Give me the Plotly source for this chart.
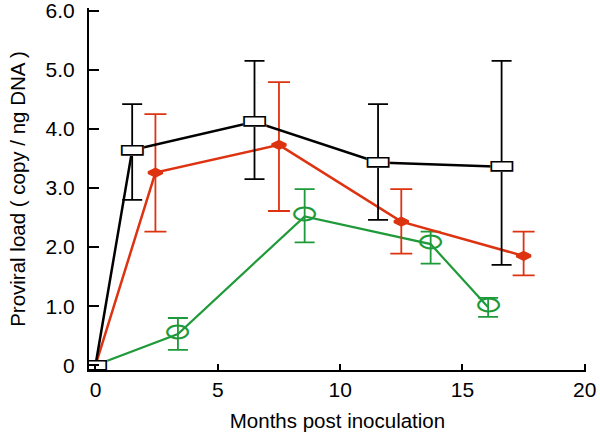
import plotly.graph_objects as go

# ---- data ----
months_black = [0, 1.5, 6.5, 11.55, 16.6]
load_black = [0, 3.64, 4.12, 3.43, 3.36]
black_upper = [None, 4.42, 5.15, 4.42, 5.15]
black_lower = [None, 2.80, 3.15, 2.46, 1.70]

months_red = [0, 2.45, 7.5, 12.5, 17.5]
load_red = [0, 3.26, 3.73, 2.43, 1.85]
red_upper = [None, 4.25, 4.79, 2.98, 2.26]
red_lower = [None, 2.26, 2.61, 1.89, 1.52]

months_green = [0, 3.37, 8.55, 13.7, 16.05]
load_green = [0, 0.53, 2.52, 2.05, 0.98]
green_upper = [None, 0.80, 2.98, 2.26, 1.14]
green_lower = [None, 0.26, 2.08, 1.72, 0.82]

x_ticks = [0, 5, 10, 15, 20]
y_ticks = [0, 1, 2, 3, 4, 5, 6]
y_tick_labels = ["0", "1.0", "2.0", "3.0", "4.0", "5.0", "6.0"]

BLACK = "#000000"
RED = "#dd3311"
GREEN = "#1f9a3a"
FONT = "Liberation Sans, Arial, sans-serif"


def errs(vals, upper, lower):
    plus = [None if u is None else round(u - v, 3) for v, u in zip(vals, upper)]
    minus = [None if l is None else round(v - l, 3) for v, l in zip(vals, lower)]
    return plus, minus


fig = go.Figure()

# green series
gp, gm = errs(load_green, green_upper, green_lower)
fig.add_trace(go.Scatter(
    x=months_green, y=load_green, mode="lines",
    line=dict(color=GREEN, width=2.2),
    error_y=dict(type="data", array=gp, arrayminus=gm, symmetric=False,
                 color=GREEN, thickness=1.8, width=10),
    hoverinfo="skip", showlegend=False))
fig.add_trace(go.Scatter(
    x=months_green[1:], y=load_green[1:], mode="text", text=["⬭"] * 4,
    textposition="middle center",
    textfont=dict(color=GREEN, size=27, family="DejaVu Sans", weight="bold"),
    hoverinfo="skip", showlegend=False))

# red series
rp, rm = errs(load_red, red_upper, red_lower)
fig.add_trace(go.Scatter(
    x=months_red, y=load_red, mode="lines+markers",
    line=dict(color=RED, width=2.5),
    marker=dict(symbol="diamond-wide", size=10, color=RED,
                line=dict(color=RED, width=3)),
    error_y=dict(type="data", array=rp, arrayminus=rm, symmetric=False,
                 color=RED, thickness=1.8, width=11),
    hoverinfo="skip", showlegend=False))

# black series
bp, bm = errs(load_black, black_upper, black_lower)
fig.add_trace(go.Scatter(
    x=months_black, y=load_black, mode="lines",
    line=dict(color=BLACK, width=2.5),
    error_y=dict(type="data", array=bp, arrayminus=bm, symmetric=False,
                 color=BLACK, thickness=1.8, width=10),
    hoverinfo="skip", showlegend=False))
fig.add_trace(go.Scatter(
    x=months_black, y=load_black, mode="text", text=["▬"] * 5,
    textposition="middle center",
    textfont=dict(color="white", size=30, family="DejaVu Sans", weight="bold"),
    hoverinfo="skip", showlegend=False))
fig.add_trace(go.Scatter(
    x=months_black, y=load_black, mode="text", text=["▭"] * 5,
    textposition="middle center",
    textfont=dict(color=BLACK, size=30, family="DejaVu Sans", weight="bold"),
    hoverinfo="skip", showlegend=False))

fig.update_layout(
    width=600, height=432,
    margin=dict(l=89, r=14, t=8, b=62),
    paper_bgcolor="white", plot_bgcolor="white",
    font=dict(family=FONT, color="black", size=21),
    xaxis=dict(
        range=[-0.265, 20.05], tickvals=x_ticks, automargin=False,
        showline=True, linecolor="black", linewidth=2,
        ticks="inside", ticklen=6, tickwidth=2, tickcolor="black",
        showgrid=False, zeroline=False,
        tickfont=dict(size=21, family=FONT),
        ticklabelstandoff=0,
        title=dict(text="Months post inoculation", font=dict(size=20.5, family=FONT), standoff=18),
    ),
    yaxis=dict(
        range=[-0.08, 6.045], tickvals=y_ticks, ticktext=y_tick_labels, automargin=False,
        showline=True, linecolor="black", linewidth=2,
        ticks="inside", ticklen=10, tickwidth=2, tickcolor="black",
        showgrid=False, zeroline=False,
        tickfont=dict(size=21, family=FONT),
        ticklabelstandoff=8, ticklabeloverflow="allow",
        title=dict(text="Proviral load ( copy / ng DNA )", font=dict(size=20.5, family=FONT), standoff=14),
    ),
)

# remove the browser's default 8px page margin so the figure sits at the window origin
fig.write_html("out.html", config={"displayModeBar": False},
               post_script="document.body.style.margin='0px';")
